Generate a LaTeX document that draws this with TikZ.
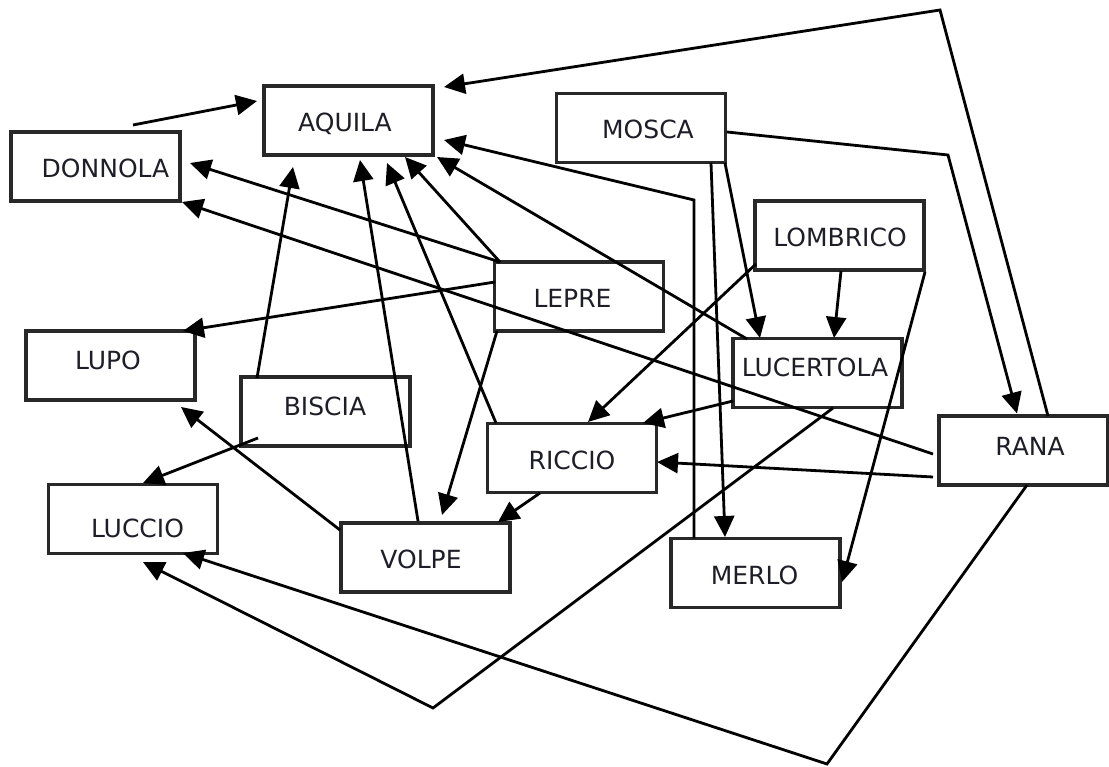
\documentclass[tikz,border=0pt]{standalone}
\usepackage{fontspec}
\setmainfont{DejaVu Sans}
\usetikzlibrary{arrows.meta,calc}
\definecolor{boxc}{RGB}{40,40,40}
\definecolor{txtc}{RGB}{30,30,40}
\begin{document}
\begin{tikzpicture}[x=1pt,y=-1pt,
  box/.style={draw=boxc, line width=3.2pt, minimum width=169pt, minimum height=69pt, inner sep=0pt},
  lbl/.style={font=\fontsize{25}{30}\selectfont, text=txtc, inner sep=0pt, text height=18pt, text depth=0pt},
  conn/.style={line width=2.8pt, line join=miter, black},
  arr/.style={conn, -{Triangle[length=21pt,width=20pt]}},
]
\useasboundingbox[fill=white] (0,0) rectangle (1109,767);

% boxes
\node[box, label={[lbl,xshift=-3.5pt,yshift=-2.5pt]center:AQUILA}]    (aquila)    at (348.5,120.5) {};
\node[box, label={[lbl,xshift=10pt,yshift=-2pt]center:DONNOLA}]       (donnola)   at (95.5,166.5) {};
\node[box, label={[lbl,xshift=7pt,yshift=-2pt]center:MOSCA}]          (mosca)     at (641,128) {};
\node[box, label={[lbl,xshift=0.5pt,yshift=-2pt]center:LOMBRICO}]     (lombrico)  at (839.5,235.5) {};
\node[box, label={[lbl,xshift=-6.5pt,yshift=-2.5pt]center:LEPRE}]     (lepre)     at (579,296.5) {};
\node[box, label={[lbl,xshift=-2.5pt,yshift=4.5pt]center:LUPO}]       (lupo)      at (110.5,365.5) {};
\node[box, label={[lbl,xshift=-0.5pt,yshift=5.5pt]center:BISCIA}]     (biscia)    at (325.5,411.5) {};
\node[box, label={[lbl,xshift=-2.5pt,yshift=5pt]center:LUCERTOLA}]    (lucertola) at (817.5,373) {};
\node[box, label={[lbl,xshift=0pt,yshift=-2pt]center:RICCIO}]         (riccio)    at (572,458) {};
\node[box, label={[lbl,xshift=6.5pt,yshift=4.5pt]center:RANA}]        (rana)      at (1023.5,450.5) {};
\node[box, label={[lbl,xshift=4.5pt,yshift=-9pt]center:LUCCIO}]       (luccio)    at (133,519) {};
\node[box, label={[lbl,xshift=-4.5pt,yshift=-1.5pt]center:VOLPE}]     (volpe)     at (425.5,557.5) {};
\node[box, label={[lbl,xshift=-1pt,yshift=-2.5pt]center:MERLO}]       (merlo)     at (755.5,573) {};

% bend points
\coordinate (bRanaAq) at (940,10);
\coordinate (bMerloAq) at (694,200);
\coordinate (bMoscaRana) at (948,155);
\coordinate (bLucLuc) at (433,708);
\coordinate (bRanaLuc) at (827,764);

% connectors
\draw[arr] ($(donnola)+(37.5,-41.5)$) -- ($(aquila)+(-91.5,-19.5)$);
\draw[arr] ($(rana)+(24.5,-34.5)$) -- (bRanaAq) -- ($(aquila)+(95.5,-33.5)$);
\draw[arr] ($(merlo)+(-61.5,-35)$) -- (bMerloAq) -- ($(aquila)+(95.5,19.5)$);
\draw[arr] ($(lucertola)+(-70.5,-34)$) -- ($(aquila)+(88.5,36.5)$);
\draw[arr] ($(lepre)+(-79,-34.5)$) -- ($(aquila)+(56.5,36.5)$);
\draw[arr] ($(riccio)+(-76,-35)$) -- ($(aquila)+(38.5,42.5)$);
\draw[arr] ($(volpe)+(-7.5,-36.5)$) -- ($(aquila)+(11.5,39.5)$);
\draw[arr] ($(biscia)+(-68.5,-33.5)$) -- ($(aquila)+(-55.5,46.5)$);
\draw[arr] ($(lepre)+(-79,-34.5)$) -- ($(donnola)+(94.5,-3.5)$);
\draw[arr] ($(rana)+(-90.5,3.5)$) -- ($(donnola)+(86.5,35.5)$);
\draw[arr] ($(lepre)+(-84,-14.5)$) -- ($(lupo)+(72.5,-34.5)$);
\draw[arr] ($(biscia)+(-67.5,26.5)$) -- ($(luccio)+(10,-36)$);
\draw[arr] ($(volpe)+(-85.5,-27.5)$) -- ($(lupo)+(70.5,41.5)$);
\draw[arr] ($(lepre)+(-82,34.5)$) -- ($(volpe)+(16.5,-42.5)$);
\draw[arr] ($(riccio)+(-32,35)$) -- ($(volpe)+(72.5,-35.5)$);
\draw[arr] ($(lombrico)+(-83.5,28.5)$) -- ($(riccio)+(16,-36)$);
\draw[arr] ($(lucertola)+(-84.5,28)$) -- ($(riccio)+(71,-35)$);
\draw[arr] ($(rana)+(-90.5,26.5)$) -- ($(riccio)+(85,4)$);
\draw[arr] ($(mosca)+(84,35)$) -- ($(lucertola)+(-57.5,-35)$);
\draw[arr] ($(lombrico)+(1.5,35.5)$) -- ($(lucertola)+(16.5,-35)$);
\draw[arr] ($(mosca)+(70,35)$) -- ($(merlo)+(-30.5,-36)$);
\draw[arr] ($(mosca)+(86,4)$) -- (bMoscaRana) -- ($(rana)+(-6.5,-37)$);
\draw[arr] ($(lombrico)+(85.5,36.5)$) -- ($(merlo)+(86.5,9)$);
\draw[arr] ($(lucertola)+(15.5,35)$) -- (bLucLuc) -- ($(luccio)+(10,43)$);
\draw[arr] ($(rana)+(3.5,34.5)$) -- (bRanaLuc) -- ($(luccio)+(50,34)$);
\end{tikzpicture}
\end{document}
